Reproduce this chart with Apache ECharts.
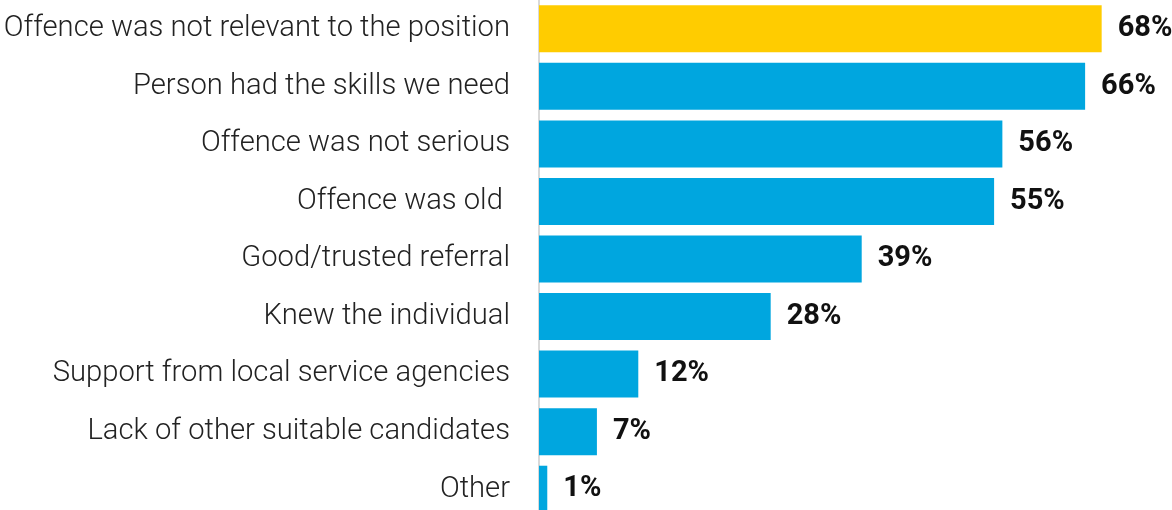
<!DOCTYPE html>
<html>
<head>
<meta charset="utf-8">
<style>
  html, body { margin: 0; padding: 0; background: #fff; }
  #chart { width: 1172px; height: 510px; }
</style>
<script src="https://cdn.jsdelivr.net/npm/echarts@6/dist/echarts.min.js"></script>
</head>
<body>
<div id="chart"></div>
<script>
// Reasons given for hiring a person with a criminal record (% of employers)
const categories = [
  'Offence was not relevant to the position',
  'Person had the skills we need',
  'Offence was not serious',
  'Offence was old ',
  'Good/trusted referral',
  'Knew the individual',
  'Support from local service agencies',
  'Lack of other suitable candidates',
  'Other'
];
const values = [68, 66, 56, 55, 39, 28, 12, 7, 1];
const highlightIndex = 0;

const HIGHLIGHT = '#FFCC00';
const BASE = '#00A6DF';

const chart = echarts.init(document.getElementById('chart'), null, { renderer: 'canvas' });

chart.setOption({
  animation: false,
  grid: {
    left: 539, right: 0, top: 0, height: 518,
    containLabel: false,
    outerBoundsMode: 'none'
  },
  xAxis: {
    type: 'value',
    min: 0,
    max: 76.5,
    show: false
  },
  yAxis: {
    type: 'category',
    data: categories,
    inverse: true,
    offset: 2,
    axisLine: { show: true, lineStyle: { color: '#d9d9d9', width: 2 } },
    axisTick: { show: false },
    axisLabel: {
      margin: 27,
      padding: [10, 0, 0, 0],
      color: '#222',
      fontFamily: 'Roboto',
      fontWeight: 300,
      fontSize: 29.2
    }
  },
  series: [{
    type: 'bar',
    barWidth: 47,
    data: values.map((v, i) => ({
      value: v,
      itemStyle: { color: i === highlightIndex ? HIGHLIGHT : BASE }
    })),
    label: {
      show: true,
      position: 'right',
      distance: 16,
      padding: [10, 0, 0, 0],
      formatter: p => p.value + '%',
      color: '#111',
      fontFamily: 'Roboto',
      fontWeight: 'bold',
      fontSize: 29
    }
  }]
});
</script>
</body>
</html>
